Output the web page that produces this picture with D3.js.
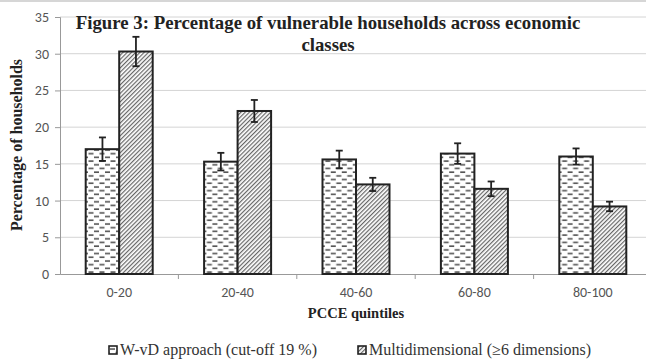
<!DOCTYPE html>
<html>
<head>
<meta charset="utf-8">
<script src="https://cdn.jsdelivr.net/npm/d3@7"></script>
<style>
body { margin: 0; background: #fff; }
svg { display: block; }
</style>
</head>
<body>
<div id="chart"></div>
<script>
"use strict";

var categories = ['0-20', '20-40', '40-60', '60-80', '80-100'];
var series = ['W-vD approach (cut-off 19 %)', 'Multidimensional (\u22656 dimensions)'];
var wvdValues = [17.0, 15.3, 15.6, 16.4, 16.0];
var wvdErrors = [1.6, 1.2, 1.2, 1.4, 1.1];
var multiValues = [30.3, 22.2, 12.2, 11.6, 9.2];
var multiErrors = [2.0, 1.5, 0.9, 1.0, 0.65];
var yTicks = [0, 5, 10, 15, 20, 25, 30, 35];

var W = 646, H = 364;
var svg = d3.select('#chart').append('svg').attr('width', W).attr('height', H);
var defs = svg.append('defs');

// dashed fill for the first series
var dash = defs.append('pattern').attr('id', 'dash').attr('patternUnits', 'userSpaceOnUse')
  .attr('width', 11).attr('height', 7.4);
dash.append('rect').attr('width', 11).attr('height', 7.4).attr('fill', '#fff');
dash.append('rect').attr('x', 1).attr('y', 1.2).attr('width', 5).attr('height', 1.6).attr('fill', '#555');
dash.append('rect').attr('x', 6.5).attr('y', 4.9).attr('width', 5).attr('height', 1.6).attr('fill', '#555');
dash.append('rect').attr('x', -4.5).attr('y', 4.9).attr('width', 5).attr('height', 1.6).attr('fill', '#555');

// diagonal hatch for the second series
var hatch = defs.append('pattern').attr('id', 'hatch').attr('patternUnits', 'userSpaceOnUse')
  .attr('width', 3).attr('height', 3).attr('patternTransform', 'rotate(45)');
hatch.append('rect').attr('width', 3).attr('height', 3).attr('fill', '#fff');
hatch.append('line').attr('x1', 0.6).attr('x2', 0.6).attr('y1', 0).attr('y2', 3)
  .attr('stroke', '#666').attr('stroke-width', 1.2);

var fills = ['url(#dash)', 'url(#hatch)'];

svg.append('rect').attr('width', W).attr('height', 2).attr('fill', '#d6d6d6');

var x0 = d3.scaleBand().domain(categories).range([60, 652]);
var x1 = d3.scaleBand().domain(series)
  .range([(x0.bandwidth() - 67) / 2, (x0.bandwidth() + 67) / 2]);
var y = d3.scaleLinear().domain([0, 35]).range([274, 17]);

// gridlines
svg.append('g').selectAll('line').data(yTicks.slice(1)).join('line')
  .attr('x1', 60).attr('x2', W).attr('y1', function (d) { return y(d); }).attr('y2', function (d) { return y(d); })
  .attr('stroke', '#d4d4d4').attr('stroke-width', 1);

// y axis
var yAxis = svg.append('g').attr('transform', 'translate(60,0)')
  .call(d3.axisLeft(y).tickValues(yTicks).tickSize(5).tickPadding(6));
yAxis.select('.domain').attr('stroke', '#999');
yAxis.selectAll('.tick line').attr('stroke', '#999');
yAxis.selectAll('text').attr('font-family', 'Carlito, "Liberation Sans", sans-serif')
  .attr('font-size', 14).attr('fill', '#555');

// x axis with ticks at band edges
var xAxis = svg.append('g').attr('transform', 'translate(0,274)')
  .call(d3.axisBottom(x0).tickSize(0).tickPadding(13));
xAxis.select('.domain').attr('stroke', '#999');
xAxis.selectAll('text').attr('font-family', 'Carlito, "Liberation Sans", sans-serif')
  .attr('font-size', 14).attr('fill', '#555');
svg.append('g').selectAll('line').data(categories).join('line')
  .attr('x1', function (d) { return x0(d) + x0.bandwidth(); })
  .attr('x2', function (d) { return x0(d) + x0.bandwidth(); })
  .attr('y1', 274).attr('y2', 279).attr('stroke', '#999');

var rows = categories.map(function (c, i) {
  return [
    { cat: c, s: series[0], v: wvdValues[i], e: wvdErrors[i], k: 0 },
    { cat: c, s: series[1], v: multiValues[i], e: multiErrors[i], k: 1 }
  ];
});

var groups = svg.append('g').selectAll('g').data(rows).join('g')
  .attr('transform', function (d) { return 'translate(' + x0(d[0].cat) + ',0)'; });

groups.selectAll('rect').data(function (d) { return d; }).join('rect')
  .attr('x', function (d) { return x1(d.s); })
  .attr('y', function (d) { return y(d.v); })
  .attr('width', x1.bandwidth())
  .attr('height', function (d) { return y(0) - y(d.v); })
  .attr('fill', function (d) { return fills[d.k]; })
  .attr('stroke', '#222').attr('stroke-width', 2);

// error bars
var err = groups.selectAll('g.err').data(function (d) { return d; }).join('g').attr('class', 'err')
  .attr('stroke', '#222').attr('stroke-width', 1.8);
err.append('line')
  .attr('x1', function (d) { return x1(d.s) + x1.bandwidth() / 2; })
  .attr('x2', function (d) { return x1(d.s) + x1.bandwidth() / 2; })
  .attr('y1', function (d) { return y(d.v + d.e); })
  .attr('y2', function (d) { return y(d.v - d.e); });
err.selectAll('line.cap').data(function (d) { return [d.v + d.e, d.v - d.e].map(function (t) { return { d: d, t: t }; }); })
  .join('line').attr('class', 'cap')
  .attr('x1', function (o) { return x1(o.d.s) + x1.bandwidth() / 2 - 3.5; })
  .attr('x2', function (o) { return x1(o.d.s) + x1.bandwidth() / 2 + 3.5; })
  .attr('y1', function (o) { return y(o.t); })
  .attr('y2', function (o) { return y(o.t); });

// title
var title = svg.append('text').attr('font-family', '"Liberation Serif", "Times New Roman", serif')
  .attr('font-weight', 'bold').attr('font-size', 18.8).attr('fill', '#222').attr('text-anchor', 'middle');
title.append('tspan').attr('x', 328).attr('y', 29).text('Figure 3: Percentage of vulnerable households across economic');
title.append('tspan').attr('x', 328).attr('y', 51).text('classes');

// axis titles
svg.append('text').attr('transform', 'translate(22,145) rotate(-90)').attr('text-anchor', 'middle')
  .attr('font-family', '"Liberation Serif", "Times New Roman", serif').attr('font-weight', 'bold')
  .attr('font-size', 16).attr('fill', '#222').text('Percentage of households');
svg.append('text').attr('x', 356).attr('y', 318).attr('text-anchor', 'middle')
  .attr('font-family', '"Liberation Serif", "Times New Roman", serif').attr('font-weight', 'bold')
  .attr('font-size', 14.5).attr('fill', '#222').text('PCCE quintiles');

// legend
var legX = [109, 358];
var leg = svg.append('g').selectAll('g').data(series).join('g')
  .attr('transform', function (d, i) { return 'translate(' + legX[i] + ',347)'; });
leg.append('rect').attr('width', 8).attr('height', 8).attr('y', -1)
  .attr('fill', function (d, i) { return fills[i]; }).attr('stroke', '#222').attr('stroke-width', 1.6);
leg.append('text').attr('x', 11).attr('y', 8)
  .attr('font-family', '"Liberation Serif", "Times New Roman", serif').attr('font-size', 16).attr('fill', '#333')
  .text(function (d) { return d; });
</script>
</body>
</html>
